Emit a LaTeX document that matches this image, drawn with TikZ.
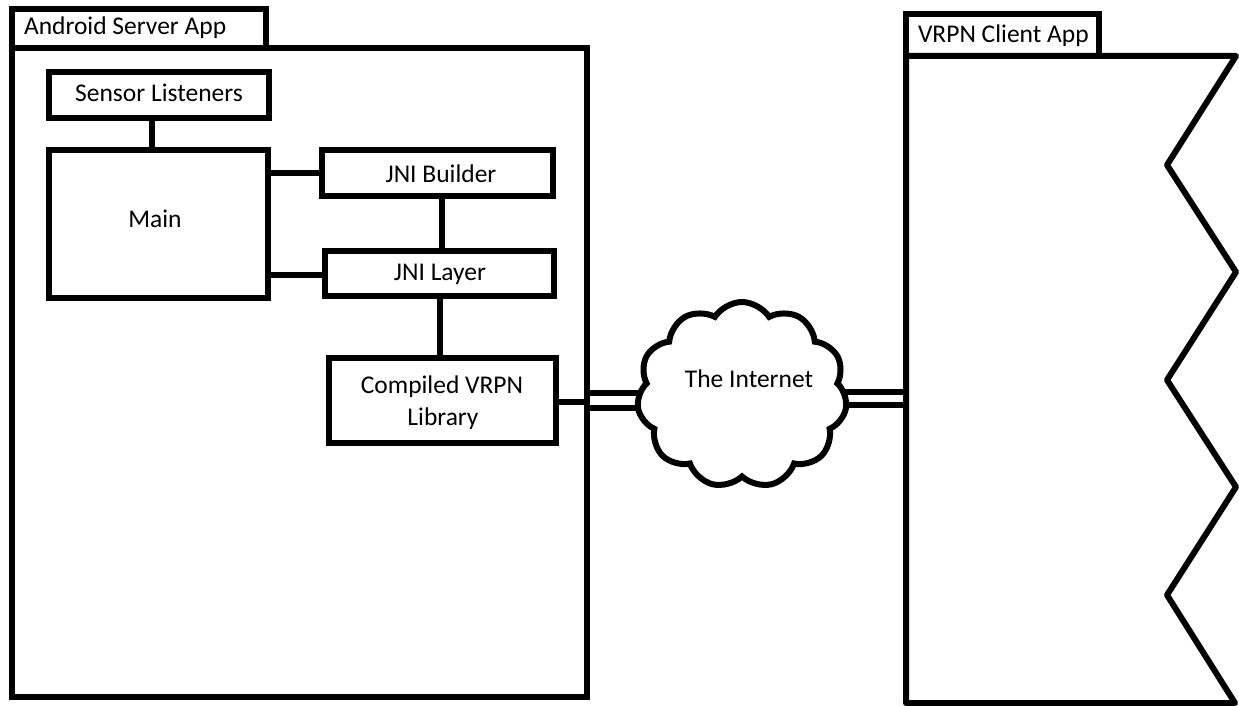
\documentclass[tikz,border=0pt]{standalone}
\usepackage{fontspec}
\setmainfont{Carlito}
\usetikzlibrary{shapes.symbols,backgrounds}
\begin{document}
\begin{tikzpicture}[x=1pt,y=-1pt,
  every node/.style={inner sep=0pt,outer sep=0pt},
  box/.style={draw,line width=6pt,fill=white,outer sep=3pt},
  lbl/.style={font=\fontsize{25.5}{31}\selectfont,align=center},
  wire/.style={line width=6pt},
  frame/.style={draw,line width=6pt}]
\useasboundingbox (0,0) rectangle (1239,706);
% server package
\node (srvtab) [frame,minimum width=254.5pt,minimum height=39pt,anchor=south west] at (11.5,48) {};
\node (srv) [frame,minimum width=575.5pt,minimum height=649pt,anchor=north west] at (11.5,48) {};
\node (srvlbl) [lbl,anchor=base west] at (24,35) {Android Server App};
% boxes
\node (sensor) [box,minimum width=220pt,minimum height=46pt] at (159,95) {};
\node (sensorlbl) [lbl,anchor=base] at (159,102) {Sensor Listeners};
\node (mainbox) [box,minimum width=219pt,minimum height=148pt] at (158.5,224) {};
\node (mainlbl) [lbl,anchor=base] at (155,227) {Main};
\node (builder) [box,minimum width=231pt,minimum height=46pt] at (437.5,173) {};
\node (builderlbl) [lbl,anchor=base] at (441,182) {JNI Builder};
\node (layer) [box,minimum width=229pt,minimum height=45pt] at (439.5,273.5) {};
\node (layerlbl) [lbl,anchor=base] at (440,280) {JNI Layer};
\node (compiled) [box,minimum width=227pt,minimum height=85pt] at (442.5,400.5) {};
\node (compiledlbl) [lbl,anchor=base] at (442,393) {Compiled VRPN};
\node (compiledlbl2) [lbl,anchor=base] at (443,425) {Library};
% connectors
\draw[wire] (sensor.south -| 152,0) -- (mainbox.north -| 152,0);
\draw[wire] (mainbox.east |- 0,173) -- (builder.west |- 0,173);
\draw[wire] (mainbox.east |- 0,275) -- (layer.west |- 0,275);
\draw[wire] (builder.south -| 442,0) -- (layer.north -| 442,0);
\draw[wire] (layer.south -| 440,0) -- (compiled.north -| 440,0);
\draw[wire] (compiled.east |- 0,402) -- (srv.east |- 0,402);
% cloud
\node (cloud) [cloud,draw,fill=white,line width=6pt,cloud puffs=11,cloud puff arc=115,
  cloud ignores aspect,minimum width=210pt,minimum height=186pt] at (742,395) {};
\node (cloudlbl) [lbl,anchor=base] at (749,387) {The Internet};
% client package
\node (clienttab) [frame,minimum width=193pt,minimum height=42pt,anchor=south west] at (906,56) {};
\draw[line width=6pt,line join=round] (906,56) -- (1236,56) -- (1167,165) -- (1236,272) -- (1167,380)
  -- (1236,487) -- (1167,595) -- (1235,703) -- (906,703) -- cycle;
\coordinate (client) at (906,398);
\node (clientlbl) [lbl,anchor=base west] at (918,43) {VRPN Client App};
\begin{pgfonlayer}{background}
\draw[wire] (srv.east |- 0,393) -- (cloud.center |- 0,393);
\draw[wire] (srv.east |- 0,408) -- (cloud.center |- 0,408);
\draw[wire] (cloud.center |- 0,392) -- (client |- 0,392);
\draw[wire] (cloud.center |- 0,405) -- (client |- 0,405);
\end{pgfonlayer}
\end{tikzpicture}
\end{document}
